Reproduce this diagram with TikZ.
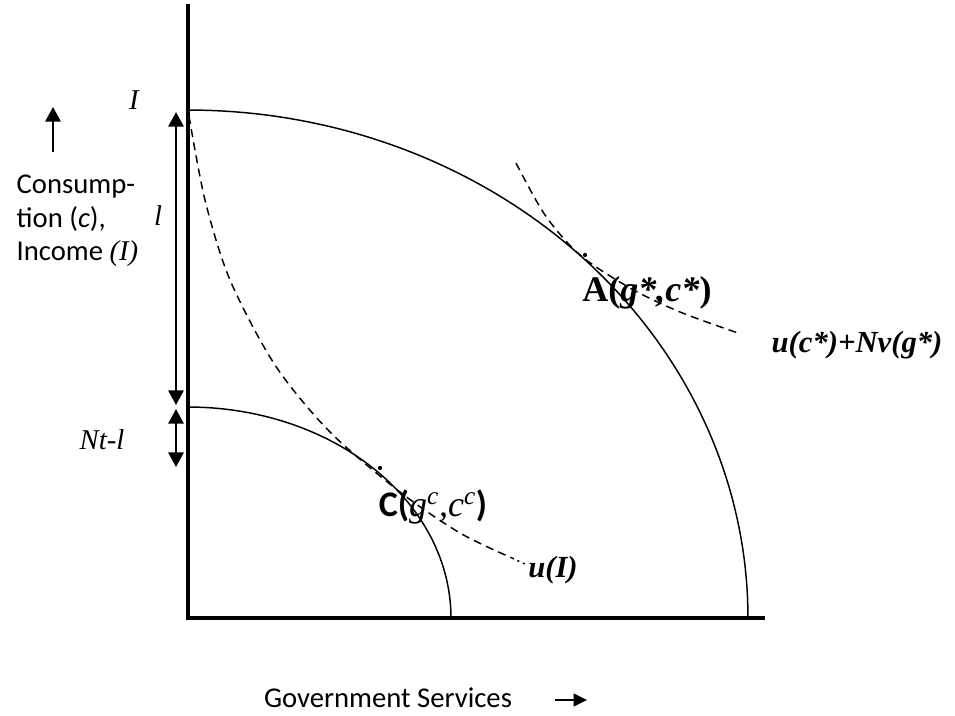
\documentclass[tikz,border=0pt]{standalone}
\usepackage{fontspec}
\setmainfont{Liberation Serif}
\newfontfamily\calibri{Carlito}
\usetikzlibrary{arrows.meta, positioning, calc}

\begin{document}
\begin{tikzpicture}[
    x=0.75pt, y=-0.75pt,
    >={Triangle[width=11.5pt,length=11pt]},
    axis/.style={line width=2.3pt},
    frontier/.style={line width=1.1pt},
    indiff/.style={line width=1.1pt, dash pattern=on 6pt off 4pt},
    measure/.style={<->, line width=1.6pt},
    sans/.style={font=\calibri\fontsize{21.5}{25}\selectfont},
    itlbl/.style={font=\fontsize{21.5}{24}\selectfont\itshape},
    bflbl/.style={font=\fontsize{23}{26}\selectfont\bfseries\itshape}
  ]
  \useasboundingbox (0,0) rectangle (955,715);

  % axes
  \coordinate (O) at (188,618);
  \coordinate (ytop) at (188,4);
  \coordinate (xend) at (765,618);
  \draw[axis] (ytop) -- (O) -- (xend);

  % frontiers
  \draw[frontier] plot[domain=0:90, samples=80] ({188+560*cos(\x)}, {618-508*sin(\x)});
  \draw[frontier] plot[domain=0:90, samples=60] ({188+263*cos(\x)}, {618-211*sin(\x)});

  % indifference curves
  \draw[indiff] plot[smooth] coordinates {(189,116) (205,200) (230,280) (275,365) (330,432) (400,492) (460,533) (512,558)};
  \draw[line width=1.1pt, dash pattern=on 1.5pt off 3pt] (512,558) -- (527,565);
  \draw[indiff] plot[smooth] coordinates {(516,163) (545,215) (580,255) (630,288) (680,312) (738,333)};
  \fill (380,468) circle (1.6pt);
  \fill (585,255) circle (1.6pt);

  % measures on the vertical axis
  \coordinate (Itop) at (176,112);
  \coordinate (Ibot) at (176,405);
  \coordinate (Ntop) at (176,409);
  \coordinate (Nbot) at (176,467);
  \draw[measure] (Itop) -- (Ibot);
  \draw[measure] (Ntop) -- (Nbot);

  % axis arrows
  \coordinate (yarr0) at (53,152);
  \coordinate (yarr1) at (53,107);
  \draw[->, line width=1.6pt] (yarr0) -- (yarr1);
  \coordinate (xarr0) at (555,700);
  \coordinate (xarr1) at (587,700);
  \draw[-{Triangle[width=9.5pt,length=10pt]}, line width=1.6pt] (xarr0) -- (xarr1);

  % labels
  \node[itlbl] (Ilab) at (134,100) {I};
  \node[itlbl] (llab) at (158,216) {l};
  \node[itlbl] (Nlab) at (102,440) {Nt-l};
  \node[sans, align=left, anchor=west] (ylab) at (12,221)
    {Consump-\\tion (\textit{c}),\\Income {\rmfamily\itshape (I)}};
  \node[sans] (xlab) at (388,698) {Government Services};
  \node[font=\fontsize{27}{30}\selectfont\bfseries] (Alab) at (647,293) {A(\textit{g*,c*})};
  \node[font=\fontsize{27}{30}\selectfont] (Clab) at (433,507)
    {{\calibri\bfseries C(}\textit{g\textsuperscript{c},c\textsuperscript{c}}{\calibri\bfseries )}};
  \node[bflbl] (Ulab) at (553,570) {u(I)};
  \node[bflbl] (UAlab) at (857,345) {u(c*)+Nv(g*)};
\end{tikzpicture}
\end{document}
